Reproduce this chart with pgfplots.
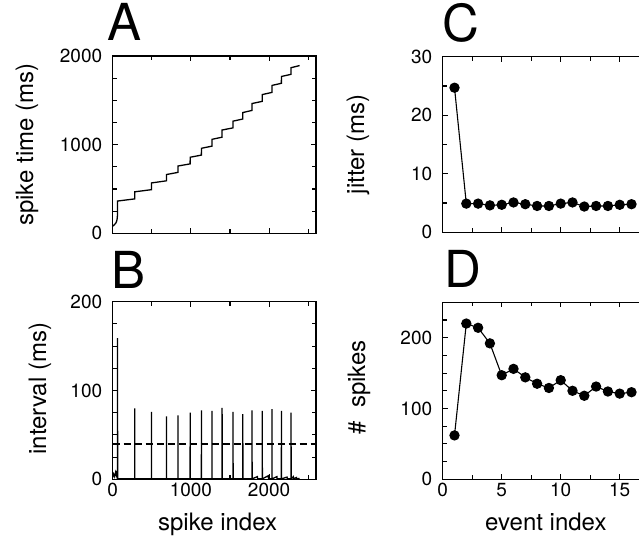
\documentclass[border=0pt]{standalone}
\usepackage{fontspec}
\setmainfont{TeX Gyre Heros}
\usepackage{pgfplots}
\pgfplotsset{compat=1.18}

\pgfplotsset{
  panel/.style={
    scale only axis,
    axis line style={line width=1.3pt},
    tick style={black, line width=1.1pt},
    major tick length=5pt,
    minor tick length=4pt,
    tick label style={font=\fontsize{19}{22}\selectfont},
    /pgf/number format/assume math mode=true,
    /pgf/number format/1000 sep={},
    yticklabel style={xshift=-7pt},
    label style={font=\fontsize{24}{28}\selectfont},
    title style={font=\fontsize{51}{58}\selectfont, anchor=base west, inner sep=0pt},
  },
}

\begin{document}
\begin{tikzpicture}

% A: spike time vs spike index
\begin{axis}[panel,
  at={(112.7pt,309.7pt)}, anchor=south west,
  width=203.3pt, height=177.3pt,
  xmin=0, xmax=2600, ymin=0, ymax=2000,
  xtick={0,1000,2000}, minor xtick={500,1500,2500}, xticklabels={},
  ytick={0,1000,2000}, minor ytick={250,500,750,1250,1500,1750},
  ylabel={spike time (ms)},
  ylabel style={at={(axis description cs:-0.392,0.5)}, anchor=base},
  title={A}, title style={at={(axis description cs:-0.026,1.056)}},
]
\addplot[black, line width=1.3pt] coordinates {
  (0,80) (20,95) (40,115) (52,140) (58,170) (61,205)
  (62,364) (281,388) (282,468) (495,492) (496,568) (687,592)
  (688,663) (834,687) (835,759) (990,783) (991,858) (1134,882)
  (1135,959) (1269,983) (1270,1060) (1398,1084) (1399,1165) (1538,1189)
  (1539,1265) (1663,1289) (1664,1362) (1781,1386) (1782,1464) (1912,1488)
  (1913,1565) (2036,1589) (2037,1668) (2157,1692) (2158,1769) (2280,1793)
  (2281,1868) (2390,1892)
};
\end{axis}

% B: interval vs spike index
\begin{axis}[panel,
  at={(112.7pt,63.7pt)}, anchor=south west,
  width=203.3pt, height=177.6pt,
  xmin=0, xmax=2600, ymin=0, ymax=200,
  xtick={0,1000,2000}, minor xtick={500,1500,2500},
  ytick={0,100,200}, minor ytick={25,50,75,125,150,175},
  xlabel={spike index},
  xlabel style={at={(axis description cs:0.516,-0.291)}, anchor=base},
  ylabel={interval (ms)},
  ylabel style={at={(axis description cs:-0.328,0.51)}, anchor=base},
  title={B}, title style={at={(axis description cs:-0.008,1.043)}},
]
\addplot[black, line width=1.3pt] coordinates {
  (0,2) (12,6) (25,3) (38,8) (50,4) (58,10) (61,3) (62,159) (63,0.5)
  (281,0.5) (282,80) (283,0.5)
  (495,0.5) (496,76) (497,0.5)
  (687,0.5) (688,71) (689,0.5)
  (834,0.5) (835,72) (836,0.5)
  (990,0.5) (991,75) (992,0.5)
  (1134,0.5) (1135,77.5) (1136,0.5)
  (1269,0.5) (1270,77) (1271,0.5)
  (1398,0.5) (1399,80.5) (1400,0.5)
  (1538,0.5) (1539,76) (1540,0.5)
  (1663,0.5) (1664,73.5) (1665,0.5)
  (1781,0.5) (1782,77.5) (1783,0.5)
  (1850,3) (1852,0.5)
  (1912,0.5) (1913,77) (1914,0.5)
  (1990,4) (1992,0.5)
  (2036,0.5) (2037,79) (2038,0.5)
  (2100,3) (2102,0.5)
  (2157,0.5) (2158,77) (2159,0.5)
  (2230,2.5) (2232,0.5)
  (2280,0.5) (2281,75) (2282,0.5)
  (2310,3) (2312,0.5) (2350,2) (2352,0.5) (2390,1)
};
\addplot[black, line width=1.5pt, dash pattern=on 7pt off 4pt] coordinates {(0,40) (2600,40)};
\end{axis}

% C: jitter vs event index
\begin{axis}[panel,
  at={(442.7pt,310.7pt)}, anchor=south west,
  width=236pt, height=175.6pt,
  xmin=0, xmax=20, ymin=0, ymax=30,
  xtick={0,5,10,15}, minor xtick={2.5,7.5,12.5,17.5,20}, xticklabels={},
  ytick={0,10,20,30}, minor ytick={5,15,25},
  ylabel={jitter (ms)},
  ylabel style={at={(axis description cs:-0.3335,0.5)}, anchor=base},
  title={C}, title style={at={(axis description cs:-0.003,1.055)}},
]
\addplot[black, line width=1.1pt, mark=*, mark size=4.6pt] coordinates {
  (1,24.7) (2,4.9) (3,4.9) (4,4.6) (5,4.7) (6,5.1) (7,4.8) (8,4.5)
  (9,4.5) (10,4.9) (11,5.1) (12,4.4) (13,4.5) (14,4.5) (15,4.7) (16,4.8)
};
\end{axis}

% D: number of spikes vs event index
\begin{axis}[panel,
  at={(442.7pt,63.7pt)}, anchor=south west,
  width=236pt, height=177pt,
  xmin=0, xmax=20, ymin=0, ymax=250,
  xtick={0,5,10,15}, minor xtick={2.5,7.5,12.5,17.5,20},
  ytick={0,100,200}, minor ytick={25,50,75,125,150,175,225},
  xlabel={event index},
  xlabel style={at={(axis description cs:0.437,-0.291)}, anchor=base},
  ylabel={\#\ \ spikes},
  ylabel style={at={(axis description cs:-0.329,0.52)}, anchor=base},
  title={D}, title style={at={(axis description cs:0.0055,1.047)}},
]
\addplot[black, line width=1.1pt, mark=*, mark size=4.6pt] coordinates {
  (1,62) (2,220) (3,214) (4,192) (5,147) (6,156) (7,144) (8,135)
  (9,129) (10,140) (11,125) (12,118) (13,131) (14,124) (15,121) (16,123)
};
\end{axis}

\pgfresetboundingbox
\path[use as bounding box] (0,0) rectangle (639pt,543pt);
\end{tikzpicture}
\end{document}
